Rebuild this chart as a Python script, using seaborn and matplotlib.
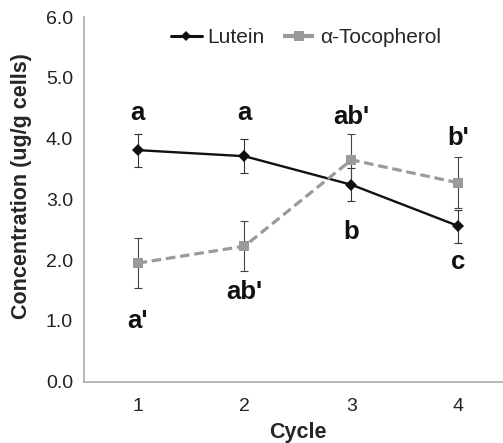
import matplotlib
matplotlib.use("Agg")
import matplotlib.pyplot as plt
from matplotlib.ticker import FixedLocator, NullFormatter
import seaborn as sns
import pandas as pd

cycles = [1, 2, 3, 4]
lutein = [3.81, 3.71, 3.24, 2.56]
lutein_err = [0.27, 0.28, 0.27, 0.27]
tocopherol = [1.95, 2.23, 3.65, 3.27]
tocopherol_err = [0.41, 0.41, 0.43, 0.42]
series_names = ["Lutein", "\u03b1-Tocopherol"]

lutein_letters = ["a", "a", "b", "c"]
lutein_letter_y = [4.42, 4.42, 2.46, 1.97]
toco_letters = ["a'", "ab'", "ab'", "b'"]
toco_letter_y = [1.0, 1.47, 4.36, 4.01]

sns.set_style("white")
plt.rcParams['font.family'] = ['Liberation Sans', 'DejaVu Sans']

BLACK = "#111111"
GREY = "#9a9a9a"

df = pd.DataFrame({
    "Cycle": cycles * 2,
    "Value": lutein + tocopherol,
    "Series": [series_names[0]] * 4 + [series_names[1]] * 4,
})

fig = plt.figure(figsize=(5.03, 4.43), dpi=100)
ax = fig.add_axes([84 / 503, (443 - 381.7) / 443, 428 / 503, (381.7 - 17) / 443])

ax.errorbar(cycles, lutein, yerr=lutein_err, fmt="none", ecolor="#333333",
            elinewidth=0.8, capsize=3, capthick=0.8, zorder=2)
ax.errorbar(cycles, tocopherol, yerr=tocopherol_err, fmt="none", ecolor="#444444",
            elinewidth=0.8, capsize=3, capthick=0.8, zorder=2)

sns.lineplot(data=df, x="Cycle", y="Value", hue="Series", style="Series",
             palette={series_names[0]: BLACK, series_names[1]: GREY},
             markers={series_names[0]: "D", series_names[1]: "s"},
             dashes={series_names[0]: "", series_names[1]: (3, 1.5)},
             markersize=7, markeredgewidth=0, ax=ax, zorder=3)
for ln in ax.lines:
    c = ln.get_color()
    if c == BLACK:
        ln.set_linewidth(1.7)
        ln.set_markersize(6)
    elif c == GREY:
        ln.set_linewidth(2.3)
        ln.set_markersize(7.5)

handles, labels = ax.get_legend_handles_labels()
for h in handles:
    if h.get_color() == BLACK:
        h.set_linewidth(2.2); h.set_markersize(5.5)
    else:
        h.set_linewidth(3); h.set_markersize(6.5)
leg = ax.legend(handles, labels, loc="upper center", bbox_to_anchor=(0.518, 1.02),
                ncol=2, frameon=False, fontsize=15, handlelength=1.5,
                handletextpad=0.25, columnspacing=0.9)

for x, t, y in zip(cycles, lutein_letters, lutein_letter_y):
    ax.text(x, y, t, ha="center", va="center", fontsize=18.5, fontweight="bold",
            color="#111111")
for x, t, y in zip(cycles, toco_letters, toco_letter_y):
    ax.text(x, y, t, ha="center", va="center", fontsize=18.5, fontweight="bold",
            color="#111111")

ax.set_xlim(0.5, 4.5)
ax.set_ylim(0, 6)
ax.set_yticks([0, 1, 2, 3, 4, 5, 6])
ax.set_yticklabels(["0.0", "1.0", "2.0", "3.0", "4.0", "5.0", "6.0"])
ax.set_xticks(cycles)
ax.set_xticklabels([str(c) for c in cycles])
ax.xaxis.set_minor_locator(FixedLocator([0.5, 1.5, 2.5, 3.5, 4.5]))
ax.xaxis.set_minor_formatter(NullFormatter())
ax.tick_params(axis="x", which="major", length=0, labelsize=14, pad=12, colors="#222222")
ax.tick_params(axis="x", which="minor", length=5, width=1, color="#aaaaaa")
ax.tick_params(axis="y", which="major", length=4, width=1, color="#aaaaaa",
               labelsize=14, labelcolor="#222222", pad=4)

for s in ["top", "right"]:
    ax.spines[s].set_visible(False)
for s in ["left", "bottom"]:
    ax.spines[s].set_color("#aaaaaa")
    ax.spines[s].set_linewidth(1.2)

ax.set_xlabel("Cycle", fontsize=15.5, fontweight="bold", labelpad=5)
ax.set_ylabel("Concentration (ug/g cells)", fontsize=15.5, fontweight="bold")
ax.yaxis.set_label_coords(-0.121, 0.537)

fig.savefig("out.png", dpi=100)
